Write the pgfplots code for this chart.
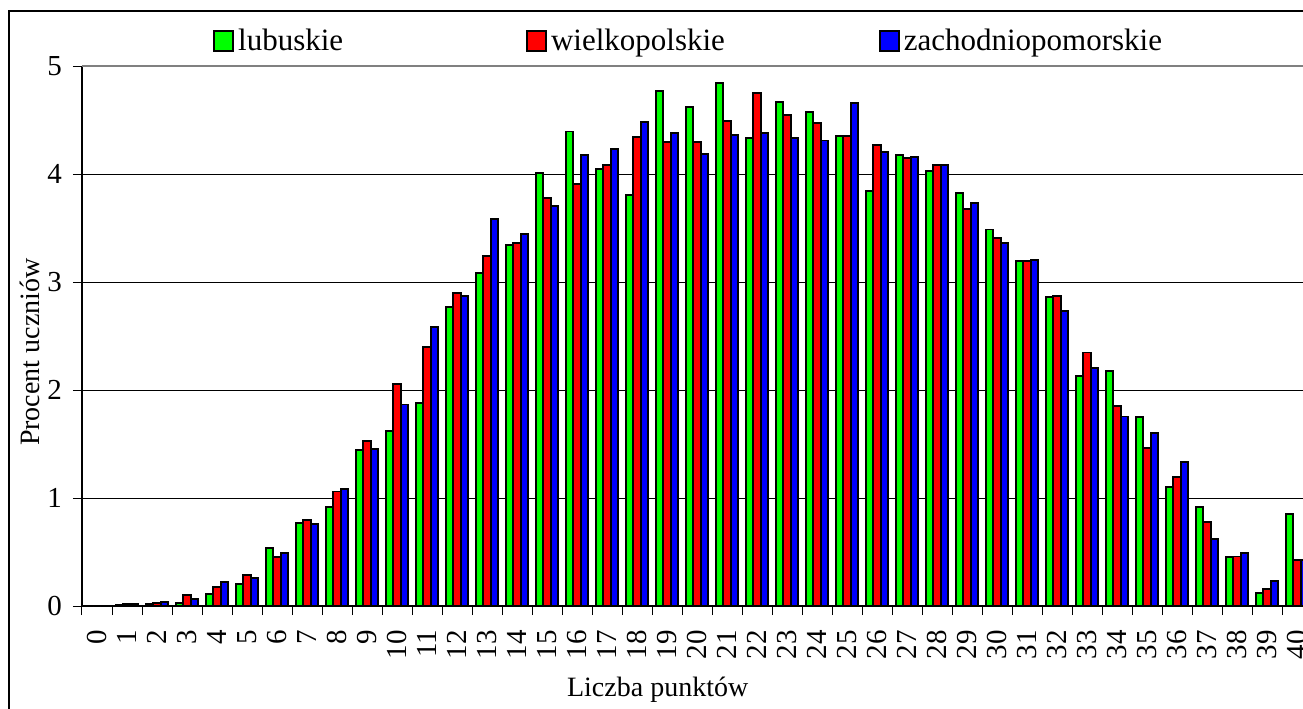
\documentclass[border=0pt]{standalone}
\usepackage{pgfplots}
\usepackage{pgfplotstable}
\pgfplotsset{compat=1.18}
\usepackage{fontspec}
\setmainfont{Liberation Serif}

\pgfplotstableread{
x g r b
0 0 0 0
1 0.006 0.015 0.02
2 0.02 0.03 0.04
3 0.03 0.10 0.065
4 0.11 0.176 0.225
5 0.20 0.287 0.256
6 0.537 0.45 0.494
7 0.77 0.80 0.76
8 0.92 1.06 1.087
9 1.447 1.531 1.457
10 1.618 2.053 1.866
11 1.876 2.40 2.58
12 2.77 2.895 2.87
13 3.08 3.24 3.58
14 3.34 3.36 3.447
15 4.006 3.776 3.70
16 4.394 3.91 4.18
17 4.043 4.08 4.23
18 3.807 4.345 4.48
19 4.767 4.298 4.38
20 4.624 4.298 4.186
21 4.84 4.49 4.36
22 4.33 4.75 4.38
23 4.67 4.55 4.335
24 4.57 4.47 4.31
25 4.35 4.35 4.655
26 3.84 4.27 4.205
27 4.18 4.146 4.155
28 4.03 4.087 4.084
29 3.826 3.677 3.733
30 3.486 3.405 3.362
31 3.198 3.198 3.207
32 2.864 2.87 2.734
33 2.127 2.347 2.201
34 2.18 1.854 1.755
35 1.752 1.467 1.60
36 1.102 1.192 1.337
37 0.913 0.777 0.619
38 0.455 0.458 0.492
39 0.124 0.161 0.235
40 0.848 0.424 0.424
}\data

\begin{document}
\begin{tikzpicture}
\useasboundingbox (0,0) rectangle (651.5pt,354pt);
\clip (0,0) rectangle (651.5pt,354pt);
\draw[line width=0.75pt] (4.5pt,-10pt) rectangle (670pt,348.5pt);
\begin{axis}[
  at={(41pt,51pt)}, anchor=south west,
  scale only axis, width=615pt, height=270pt,
  xmin=-0.5, xmax=40.5, ymin=0, ymax=5,
  axis x line*=bottom, axis y line*=left,
  axis line style={-, black, line width=0.6pt},
  /pgf/number format/assume math mode=true,
  ytick={0,...,4},
  extra y ticks={5},
  extra y tick style={major grid style={draw=gray, line width=1pt}},
  ymajorgrids,
  major grid style={black, line width=0.5pt},
  tick align=outside,
  major tick length=4.5pt,
  minor tick length=4.5pt,
  ytick style={black, line width=0.5pt},
  xtick={0,...,40},
  major x tick style={draw=none},
  minor xtick={-0.5,0.5,...,40.5},
  minor x tick style={black, line width=0.5pt},
  xticklabel shift=4pt,
  yticklabel shift=2pt,
  xticklabel style={rotate=90, anchor=east, font=\fontsize{14.5}{16}\selectfont},
  yticklabel style={font=\fontsize{14.5}{16}\selectfont},
  xlabel={Liczba punktów},
  ylabel={Procent uczniów},
  xlabel style={at={(axis description cs:0.468,-0.1556)}, anchor=center, font=\fontsize{14}{16}\selectfont},
  ylabel style={at={(axis description cs:-0.0423,0.47)}, anchor=center, rotate=0, font=\fontsize{14}{16}\selectfont},
  ybar=0pt, bar width=3.67pt,
  legend columns=3,
  legend style={draw=none, fill=none, inner sep=0pt,
    at={(axis description cs:0,1)}, anchor=west, xshift=65.5pt, yshift=12.5pt,
    font=\fontsize{15.5}{18}\selectfont,
    /tikz/column 2/.style={column sep=89.5pt},
    /tikz/column 4/.style={column sep=75pt}},
  legend image code/.code={\draw[#1, line width=0.9pt] (0pt,-5pt) rectangle (9.5pt,5pt);},
]
\addplot[fill=green, draw=black, line width=0.95pt] table[x=x, y=g] {\data};
\addplot[fill=red, draw=black, line width=0.95pt] table[x=x, y=r] {\data};
\addplot[fill=blue, draw=black, line width=0.95pt] table[x=x, y=b] {\data};
\legend{lubuskie, wielkopolskie, zachodniopomorskie}
\end{axis}
\end{tikzpicture}
\end{document}
